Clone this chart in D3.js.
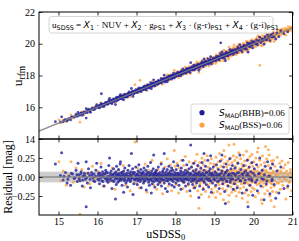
<!DOCTYPE html>
<html>
<head>
<meta charset="utf-8">
<script src="https://cdn.jsdelivr.net/npm/d3@7"></script>
<style>
  body { margin: 0; background: #fff; }
  svg { display: block; }
</style>
</head>
<body>
<div id="chart"></div>
<script>
// tick values
const xTicks = [15, 16, 17, 18, 19, 20, 21];
const yTopTicks = [14, 16, 18, 20, 22];
const yResTicks = [-0.25, 0, 0.25];

// legend values
const seriesNames = ["BHB", "BSS"];
const smadValues = [0.06, 0.06];
const bandHalfWidth = 0.07;

// BHB stars: [uSDSS0, residual]
const bhb = [
  [14.92,0.17],[15.08,0.32],[15.05,0.02],[15.12,-0.04],[15.18,0.06],[15.22,-0.08],[15.27,0.01],[15.31,-0.11],[15.36,0.04],[15.40,-0.02],[15.45,0.09],[15.48,-0.06],
  [15.50,0.18],[15.52,0.03],[15.55,-0.05],[15.58,0.07],[15.61,-0.12],[15.63,0.01],[15.66,0.05],[15.69,-0.03],[15.71,0.20],[15.71,-0.39],[15.74,-0.08],[15.77,0.11],[15.80,0.02],[15.82,-0.14],[15.85,0.06],[15.88,-0.01],[15.91,0.04],[15.93,-0.06],[15.96,0.09],[15.98,0.18],
  [16.01,-0.03],[16.03,0.05],[16.05,-0.09],[16.07,0.02],[16.09,0.13],[16.10,0.75],[16.11,-0.05],[16.13,0.07],[16.15,0.00],[16.17,-0.12],[16.19,0.04],[16.21,0.09],[16.23,-0.02],[16.25,0.06],[16.27,-0.07],[16.29,0.15],[16.31,0.25],[16.31,0.01],[16.33,-0.04],[16.35,0.08],[16.37,-0.15],[16.39,0.03],[16.41,0.11],[16.42,-0.06],[16.44,0.05],[16.46,-0.29],[16.46,0.00],[16.47,0.07],[16.48,-0.10],[16.49,0.14],[16.50,-0.01],
  [16.51,0.04],[16.52,-0.07],[16.54,0.10],[16.55,0.02],[16.57,-0.04],[16.58,0.17],[16.59,0.20],[16.60,-0.02],[16.62,0.06],[16.63,-0.11],[16.65,0.03],[16.67,-0.20],[16.67,0.08],[16.69,-0.05],[16.70,0.12],[16.72,0.01],[16.73,-0.08],[16.75,0.05],[16.77,-0.13],[16.78,0.09],[16.80,-0.03],[16.81,0.15],[16.83,0.02],[16.84,-0.06],[16.86,0.07],[16.87,0.31],[16.88,-0.01],[16.90,0.11],[16.91,-0.23],[16.92,0.04],[16.93,-0.09],[16.95,0.06],[16.96,-0.04],[16.98,0.13],[16.99,-0.02],
  [17.01,0.03],[17.02,-0.10],[17.04,0.08],[17.05,-0.03],[17.06,0.16],[17.08,0.01],[17.09,-0.06],[17.11,0.10],[17.12,-0.14],[17.14,0.05],[17.15,-0.01],[17.17,0.07],[17.18,-0.08],[17.19,0.12],[17.21,0.00],[17.22,-0.05],[17.24,0.09],[17.25,-0.17],[17.26,0.04],[17.28,-0.02],[17.29,0.14],[17.31,-0.07],[17.32,0.06],[17.33,-0.11],[17.35,0.02],[17.36,0.19],[17.37,-0.04],[17.38,-0.21],[17.39,0.08],[17.40,-0.09],[17.41,0.03],[17.42,-0.01],[17.43,0.11],[17.44,0.29],[17.45,-0.06],[17.46,0.05],[17.47,-0.13],[17.48,0.01],[17.49,0.07],[17.50,-0.03],
  [17.51,0.09],[17.52,-0.05],[17.54,0.04],[17.55,-0.10],[17.56,0.13],[17.58,0.00],[17.59,-0.07],[17.60,0.06],[17.62,-0.02],[17.63,0.17],[17.64,-0.12],[17.66,0.03],[17.67,0.08],[17.68,-0.04],[17.70,0.11],[17.71,0.31],[17.71,-0.08],[17.73,0.02],[17.74,-0.15],[17.76,0.07],[17.77,-0.01],[17.79,-0.19],[17.79,0.10],[17.80,-0.05],[17.82,0.05],[17.83,0.14],[17.84,-0.09],[17.86,0.01],[17.87,0.08],[17.88,-0.03],[17.90,0.12],[17.91,-0.11],[17.92,0.04],[17.93,0.09],[17.94,-0.06],[17.95,0.20],[17.96,0.02],[17.97,-0.13],[17.98,0.06],[17.99,-0.02],
  [18.01,-0.08],[18.02,0.10],[18.03,0.01],[18.05,-0.04],[18.06,0.15],[18.07,0.05],[18.09,-0.11],[18.10,0.03],[18.11,-0.01],[18.13,0.08],[18.14,-0.16],[18.15,0.12],[18.17,-0.05],[18.18,0.02],[18.19,0.22],[18.21,-0.07],[18.22,0.06],[18.23,-0.02],[18.25,0.09],[18.26,-0.12],[18.27,0.04],[18.29,0.16],[18.30,-0.03],[18.31,0.07],[18.33,-0.09],[18.34,0.01],[18.35,0.11],[18.37,-0.18],[18.38,0.05],[18.39,0.42],[18.40,-0.06],[18.41,0.13],[18.43,0.00],[18.44,-0.10],[18.45,0.08],[18.46,-0.03],[18.47,0.18],[18.48,0.03],[18.49,-0.14],[18.50,0.06],
  [18.51,-0.01],[18.53,0.10],[18.54,-0.08],[18.56,0.04],[18.57,0.15],[18.59,-0.05],[18.60,-0.27],[18.61,0.07],[18.62,-0.12],[18.64,0.02],[18.65,0.12],[18.67,-0.03],[18.68,0.19],[18.70,0.05],[18.71,-0.16],[18.73,0.31],[18.73,0.09],[18.74,-0.07],[18.76,0.01],[18.77,0.14],[18.79,-0.10],[18.80,0.06],[18.82,-0.02],[18.83,0.22],[18.85,-0.13],[18.86,0.08],[18.88,-0.05],[18.89,0.11],[18.90,0.28],[18.91,0.03],[18.92,-0.20],[18.94,0.05],[18.95,-0.08],[18.97,0.13],[18.99,-0.01],
  [19.01,0.07],[19.03,-0.11],[19.05,0.16],[19.06,0.02],[19.08,-0.06],[19.10,0.10],[19.12,-0.15],[19.13,0.04],[19.15,0.21],[19.16,0.90],[19.17,-0.03],[19.19,0.29],[19.19,0.08],[19.21,-0.09],[19.23,0.13],[19.24,0.00],[19.26,-0.19],[19.28,-0.35],[19.28,0.06],[19.30,0.17],[19.32,-0.05],[19.33,0.09],[19.35,-0.12],[19.37,0.03],[19.39,0.24],[19.40,-0.07],[19.42,0.11],[19.44,-0.02],[19.46,0.15],[19.48,-0.16],[19.49,0.05],
  [19.51,-0.09],[19.53,0.12],[19.55,0.01],[19.58,-0.14],[19.60,0.18],[19.62,0.06],[19.65,0.29],[19.66,-0.05],[19.68,0.10],[19.71,-0.21],[19.73,0.03],[19.75,0.15],[19.77,-0.08],[19.80,0.08],[19.82,-0.17],[19.84,0.22],[19.86,-0.39],[19.87,0.02],[19.89,0.13],[19.91,-0.11],[19.93,0.07],[19.95,-0.03],[19.96,0.19],[19.98,-0.24],[19.99,0.05],
  [20.02,0.11],[20.05,-0.07],[20.08,0.16],[20.10,-0.18],[20.13,0.04],[20.16,0.25],[20.19,-0.12],[20.22,0.09],[20.25,-0.03],[20.27,-0.30],[20.30,0.14],[20.33,-0.09],[20.36,0.20],[20.39,0.01],[20.42,-0.22],[20.44,0.12],[20.47,-0.05],[20.49,0.17],
  [20.53,-0.10],[20.57,-0.28],[20.60,0.08],[20.65,-0.21],[20.70,0.13],[20.78,-0.15],[20.88,-0.12]
];

// BHB stars in the dense core of the relation: [uSDSS0, residual]
const bhbCore = [
  [15.14,0.01],[15.24,-0.03],[15.33,0.05],[15.42,-0.01],[15.47,0.03],
  [15.53,-0.02],[15.57,0.04],[15.62,-0.04],[15.67,0.02],[15.72,-0.01],[15.76,0.05],[15.81,-0.03],[15.86,0.03],[15.90,-0.05],[15.95,0.01],
  [16.02,0.02],[16.04,-0.04],[16.06,0.05],[16.08,-0.01],[16.12,0.03],[16.14,-0.06],[16.16,0.04],[16.20,-0.02],[16.22,0.06],[16.24,-0.05],[16.26,0.01],[16.28,-0.03],[16.32,0.05],[16.34,-0.01],[16.36,0.03],[16.38,-0.05],[16.40,0.00],[16.43,0.04],[16.45,-0.03],[16.48,0.02],
  [16.51,-0.02],[16.53,0.03],[16.55,-0.05],[16.56,0.05],[16.58,-0.01],[16.60,0.02],[16.61,-0.04],[16.63,0.06],[16.65,-0.02],[16.66,0.01],[16.68,0.04],[16.70,-0.03],[16.71,0.00],[16.74,0.03],[16.76,-0.05],[16.78,0.01],[16.79,-0.02],[16.82,0.05],[16.84,0.00],[16.85,-0.04],[16.87,0.03],[16.89,-0.01],[16.92,0.06],[16.94,-0.03],[16.97,0.02],
  [17.00,-0.01],[17.02,0.04],[17.03,-0.05],[17.05,0.02],[17.07,-0.02],[17.08,0.06],[17.10,0.00],[17.12,-0.04],[17.13,0.03],[17.15,0.05],[17.16,-0.02],[17.18,0.01],[17.20,-0.05],[17.21,0.04],[17.23,-0.01],[17.25,0.02],[17.27,-0.03],[17.28,0.06],[17.30,0.01],[17.32,-0.04],[17.34,0.03],[17.36,-0.02],[17.38,0.05],[17.41,-0.05],[17.43,0.01],[17.45,0.04],[17.47,-0.02],[17.49,0.02],
  [17.50,0.05],[17.52,-0.02],[17.53,0.02],[17.55,-0.04],[17.57,0.04],[17.58,-0.01],[17.60,0.01],[17.61,-0.05],[17.63,0.03],[17.65,0.00],[17.66,-0.03],[17.68,0.06],[17.69,0.01],[17.72,-0.04],[17.73,0.04],[17.75,-0.01],[17.77,0.03],[17.78,-0.05],[17.81,0.02],[17.82,-0.02],[17.84,0.05],[17.86,-0.03],[17.88,0.01],[17.89,0.04],[17.91,-0.04],[17.93,0.00],[17.96,-0.02],[17.98,0.03],
  [18.00,0.02],[18.02,-0.03],[18.04,0.05],[18.05,0.00],[18.07,-0.05],[18.08,0.03],[18.10,-0.02],[18.12,0.04],[18.13,0.00],[18.15,-0.04],[18.16,0.06],[18.18,-0.01],[18.20,0.02],[18.21,-0.05],[18.23,0.04],[18.25,-0.02],[18.26,0.01],[18.28,-0.03],[18.30,0.05],[18.32,0.00],[18.34,-0.04],[18.36,0.03],[18.38,-0.01],[18.40,0.04],[18.42,-0.03],[18.44,0.02],[18.46,-0.05],[18.49,0.01],
  [18.50,-0.03],[18.52,0.04],[18.54,0.00],[18.55,-0.05],[18.57,0.03],[18.59,0.05],[18.61,-0.02],[18.63,0.01],[18.65,-0.04],[18.66,0.04],[18.69,-0.01],[18.70,0.02],[18.72,-0.05],[18.75,0.03],[18.77,-0.02],[18.79,0.06],[18.81,0.00],[18.83,-0.04],[18.85,0.03],[18.87,-0.02],[18.89,0.05],[18.91,-0.05],[18.93,0.01],[18.96,0.03],[18.98,-0.03],
  [19.00,0.02],[19.02,-0.04],[19.04,0.05],[19.07,-0.01],[19.09,0.03],[19.11,-0.05],[19.14,0.01],[19.16,-0.02],[19.18,0.05],[19.20,0.00],[19.22,-0.04],[19.25,0.03],[19.27,-0.02],[19.29,0.06],[19.31,-0.06],[19.34,0.02],[19.36,-0.01],[19.38,0.04],[19.41,-0.04],[19.43,0.01],[19.45,0.05],[19.47,-0.03],
  [19.52,0.03],[19.55,-0.04],[19.58,0.05],[19.61,-0.02],[19.64,0.01],[19.67,-0.05],[19.70,0.04],[19.73,-0.01],[19.76,0.06],[19.79,-0.04],[19.82,0.02],[19.85,0.05],[19.88,-0.03],[19.92,0.00],[19.96,-0.05],
  [20.03,0.02],[20.09,-0.04],[20.15,0.05],[20.21,-0.02],[20.28,0.03],[20.34,-0.05],[20.41,0.01],[20.48,-0.03]
];

// BSS stars: [uSDSS0, residual]
const bss = [
  [15.01,0.20],[15.06,-0.05],[15.12,0.08],[15.20,-0.11],[15.26,0.03],[15.32,0.20],[15.38,-0.07],[15.45,0.12],
  [15.52,-0.03],[15.55,-0.49],[15.60,0.10],[15.66,-0.13],[15.72,0.05],[15.80,-0.09],[15.87,0.14],[15.94,-0.02],
  [16.03,0.07],[16.09,0.18],[16.14,-0.12],[16.22,0.04],[16.30,-0.06],[16.38,0.12],[16.45,-0.16],
  [16.53,0.09],[16.60,-0.04],[16.66,0.15],[16.72,-0.11],[16.78,0.06],[16.84,-0.18],[16.90,0.02],[16.96,0.46],[16.98,-0.08],
  [17.03,0.12],[17.07,-0.14],[17.09,0.60],[17.13,0.05],[17.18,-0.06],[17.22,0.17],[17.27,-0.20],[17.31,0.09],[17.36,-0.03],[17.40,0.22],[17.44,-0.10],[17.48,0.07],
  [17.52,-0.16],[17.55,0.10],[17.58,0.02],[17.61,-0.08],[17.64,0.19],[17.67,-0.22],[17.70,0.06],[17.73,0.13],[17.76,-0.05],[17.79,0.24],[17.82,-0.12],[17.84,0.04],[17.87,0.16],[17.90,-0.18],[17.92,0.09],[17.95,-0.02],[17.97,0.35],[17.99,0.14],
  [18.02,-0.10],[18.04,0.18],[18.06,0.03],[18.08,-0.21],[18.10,0.12],[18.13,-0.04],[18.15,0.22],[18.17,0.07],[18.19,-0.15],[18.21,0.15],[18.23,-0.07],[18.25,0.27],[18.27,0.01],[18.29,-0.19],[18.31,0.10],[18.33,-0.11],[18.35,0.20],[18.37,0.05],[18.39,-0.25],[18.41,0.13],[18.43,-0.03],[18.45,0.18],[18.46,-0.14],[18.48,0.09],[18.50,-0.06],
  [18.51,0.21],[18.52,-0.12],[18.54,0.07],[18.55,0.30],[18.57,-0.18],[18.58,0.14],[18.60,-0.41],[18.60,0.02],[18.62,0.19],[18.63,-0.09],[18.65,0.11],[18.66,-0.23],[18.68,0.25],[18.69,0.04],[18.71,-0.14],[18.72,0.16],[18.74,-0.05],[18.75,0.22],[18.77,-0.19],[18.78,0.09],[18.80,-0.02],[18.81,0.28],[18.83,-0.11],[18.84,0.13],[18.86,-0.26],[18.87,0.06],[18.89,0.18],[18.90,-0.08],[18.92,0.24],[18.93,-0.16],[18.95,0.10],[18.96,0.01],[18.97,-0.21],[18.98,0.17],[18.99,-0.04],
  [19.01,0.15],[19.02,-0.13],[19.03,-0.27],[19.04,0.26],[19.05,0.05],[19.07,-0.19],[19.08,0.12],[19.09,-0.06],[19.10,0.20],[19.12,-0.10],[19.13,0.31],[19.14,0.03],[19.15,-0.22],[19.17,0.14],[19.18,-0.02],[19.19,0.23],[19.21,-0.15],[19.22,0.08],[19.23,-0.30],[19.24,0.35],[19.25,0.18],[19.26,-0.07],[19.27,0.27],[19.29,0.00],[19.30,-0.17],[19.31,0.13],[19.33,-0.11],[19.34,0.21],[19.35,0.06],[19.36,-0.33],[19.37,0.42],[19.37,-0.24],[19.38,0.16],[19.40,-0.04],[19.41,0.25],[19.42,-0.13],[19.43,0.09],[19.44,-0.20],[19.45,0.19],[19.46,0.02],[19.47,-0.09],[19.48,0.28],[19.49,-0.16],[19.50,0.43],[19.50,0.11],
  [19.51,-0.06],[19.52,0.22],[19.53,-0.18],[19.54,0.14],[19.55,0.03],[19.56,-0.25],[19.57,0.26],[19.58,0.08],[19.59,-0.12],[19.60,0.19],[19.61,-0.03],[19.62,0.32],[19.63,-0.20],[19.64,0.11],[19.65,0.00],[19.66,-0.15],[19.67,0.24],[19.68,0.06],[19.69,-0.09],[19.70,0.17],[19.71,-0.28],[19.72,0.13],[19.73,-0.02],[19.74,0.29],[19.75,-0.13],[19.76,0.09],[19.77,0.21],[19.78,-0.21],[19.79,0.04],[19.80,0.15],[19.81,-0.07],[19.82,0.34],[19.83,-0.17],[19.84,0.10],[19.85,-0.01],[19.85,-0.33],[19.86,0.23],[19.87,-0.24],[19.88,0.12],[19.89,0.05],[19.90,-0.11],[19.91,0.27],[19.92,-0.05],[19.93,0.18],[19.94,-0.19],[19.95,0.08],[19.96,0.30],[19.97,-0.14],[19.98,0.14],[19.99,-0.03],
  [20.01,0.20],[20.02,-0.16],[20.04,0.09],[20.05,-0.26],[20.06,0.25],[20.08,0.02],[20.09,-0.10],[20.10,0.33],[20.12,0.13],[20.12,0.38],[20.13,-0.21],[20.14,0.06],[20.16,-1.52],[20.16,0.22],[20.17,-0.08],[20.19,0.16],[20.20,-0.30],[20.21,0.04],[20.22,-0.35],[20.23,0.28],[20.24,-0.13],[20.25,0.10],[20.27,-0.04],[20.28,0.19],[20.29,-0.22],[20.31,0.40],[20.31,0.07],[20.32,-0.11],[20.34,0.24],[20.35,0.01],[20.36,-0.18],[20.38,0.15],[20.38,0.36],[20.39,-0.06],[20.40,0.29],[20.42,-0.25],[20.43,0.11],[20.44,0.03],[20.45,-0.14],[20.45,-0.31],[20.46,0.21],[20.47,-0.09],[20.48,0.17],[20.49,-0.19],[20.50,0.08],
  [20.51,0.22],[20.53,-0.39],[20.53,-0.12],[20.55,0.14],[20.57,0.03],[20.59,-0.20],[20.61,0.26],[20.63,0.09],[20.65,-0.08],[20.67,0.18],[20.69,-0.16],[20.71,0.05],[20.73,0.21],[20.75,-0.11],[20.77,0.12],[20.79,-0.02],[20.81,0.16],[20.83,-0.29],[20.85,0.08],[20.87,-0.14],[20.89,0.19],[20.92,-0.06],[20.95,0.10],[20.98,-0.18],[20.99,0.04]
];

// BSS stars in the dense core of the relation: [uSDSS0, residual]
const bssCore = [
  [17.10,0.02],[17.20,-0.04],[17.33,0.05],[17.45,-0.02],[17.57,0.03],[17.65,-0.05],[17.74,0.01],[17.83,0.06],[17.91,-0.03],[17.98,0.02],
  [18.03,0.05],[18.09,-0.03],[18.14,0.01],[18.20,-0.06],[18.24,0.03],[18.30,0.07],[18.34,-0.02],[18.40,0.04],[18.44,-0.07],[18.49,0.01],
  [18.53,0.06],[18.56,-0.03],[18.59,0.01],[18.64,-0.06],[18.67,0.08],[18.70,0.02],[18.73,-0.08],[18.76,0.05],[18.79,-0.01],[18.82,0.07],[18.85,-0.05],[18.88,0.03],[18.91,-0.02],[18.94,0.06],[18.97,0.00],
  [19.01,-0.04],[19.03,0.07],[19.06,0.01],[19.08,-0.08],[19.11,0.04],[19.13,-0.02],[19.16,0.09],[19.18,-0.05],[19.20,0.02],[19.22,-0.09],[19.24,0.06],[19.26,0.00],[19.28,-0.03],[19.31,0.08],[19.33,-0.06],[19.35,0.03],[19.38,-0.01],[19.40,0.07],[19.42,-0.07],[19.44,0.04],[19.47,-0.02],[19.49,0.09],
  [19.50,-0.05],[19.52,0.04],[19.54,-0.09],[19.56,0.07],[19.58,-0.02],[19.60,0.01],[19.62,-0.06],[19.64,0.08],[19.66,0.03],[19.68,-0.04],[19.70,0.06],[19.72,-0.08],[19.74,0.00],[19.76,-0.03],[19.78,0.09],[19.80,-0.06],[19.82,0.02],[19.84,0.05],[19.86,-0.09],[19.88,0.01],[19.90,0.07],[19.92,-0.04],[19.94,0.03],[19.96,-0.07],[19.98,0.05],
  [20.00,-0.02],[20.02,0.06],[20.04,-0.07],[20.06,0.03],[20.08,-0.04],[20.10,0.08],[20.12,-0.01],[20.14,-0.09],[20.16,0.05],[20.18,0.01],[20.20,-0.05],[20.22,0.07],[20.24,0.02],[20.26,-0.08],[20.28,0.04],[20.30,-0.03],[20.32,0.09],[20.34,-0.06],[20.36,0.00],[20.38,0.06],[20.40,-0.04],[20.42,0.03],[20.44,-0.08],[20.46,0.05],[20.48,-0.01],
  [20.52,0.06],[20.55,-0.05],[20.58,0.02],[20.61,-0.08],[20.64,0.04],[20.67,-0.02],[20.70,0.08],[20.73,-0.06],[20.76,0.01],[20.80,0.05],[20.84,-0.04],[20.88,0.03],[20.91,-0.07],[20.94,0.06],[20.97,-0.01]
];

const colors = { BHB: "#1f1f9c", BSS: "#ffa142" };
const serif = "Liberation Serif";
const sans = "DejaVu Sans";

const W = 299, H = 241;
const pLeft = 39, pRight = 292.5, pTop = 12, pMid = 139, pBottom = 215;

const svg = d3.select("#chart").append("svg").attr("width", W).attr("height", H);

const x = d3.scaleLinear().domain([14.5, 21]).range([pLeft, pRight]);
const yTop = d3.scaleLinear().domain([14, 22]).range([pMid, pTop]);
const yRes = d3.scaleLinear().domain([-0.5, 0.5]).range([pBottom, pMid]);

const series = [["BSS", bss.concat(bssCore)], ["BHB", bhb.concat(bhbCore)]];

const defs = svg.append("defs");
defs.append("clipPath").attr("id", "clipTop")
  .append("rect").attr("x", pLeft).attr("y", pTop).attr("width", pRight - pLeft).attr("height", pMid - pTop);
defs.append("clipPath").attr("id", "clipRes")
  .append("rect").attr("x", pLeft).attr("y", pMid).attr("width", pRight - pLeft).attr("height", pBottom - pMid);

// ---- top panel: u_rfm vs uSDSS0
const gTop = svg.append("g").attr("clip-path", "url(#clipTop)");
series.forEach(([name, data]) => {
  gTop.append("g")
    .attr("fill", colors[name])
    .attr("fill-opacity", 0.8)
    .selectAll("circle")
    .data(data)
    .join("circle")
    .attr("cx", (d) => x(d[0]))
    .attr("cy", (d) => yTop(d[0] + d[1]))
    .attr("r", 1.4);
});
gTop.append("line")
  .attr("x1", x(14.5)).attr("y1", yTop(14.5))
  .attr("x2", x(21)).attr("y2", yTop(21))
  .attr("stroke", "#808080")
  .attr("stroke-opacity", 0.85)
  .attr("stroke-width", 1.5);

// ---- bottom panel: residuals, scatter band under the points
const gRes = svg.append("g").attr("clip-path", "url(#clipRes)");
gRes.append("rect")
  .attr("x", pLeft).attr("width", pRight - pLeft)
  .attr("y", yRes(bandHalfWidth))
  .attr("height", yRes(-bandHalfWidth) - yRes(bandHalfWidth))
  .attr("fill", "#808080")
  .attr("fill-opacity", 0.3);
series.forEach(([name, data]) => {
  gRes.append("g")
    .attr("fill", colors[name])
    .attr("fill-opacity", 0.8)
    .selectAll("circle")
    .data(data)
    .join("circle")
    .attr("cx", (d) => x(d[0]))
    .attr("cy", (d) => yRes(d[1]))
    .attr("r", 1.5);
});
gRes.append("rect")
  .attr("x", pLeft).attr("width", pRight - pLeft)
  .attr("y", yRes(bandHalfWidth))
  .attr("height", yRes(-bandHalfWidth) - yRes(bandHalfWidth))
  .attr("fill", "#808080")
  .attr("fill-opacity", 0.12);
gRes.append("line")
  .attr("x1", pLeft).attr("x2", pRight)
  .attr("y1", yRes(0)).attr("y2", yRes(0))
  .attr("stroke", "#808080")
  .attr("stroke-opacity", 0.85)
  .attr("stroke-width", 1.5);

// ---- axes (ticks inward on every side)
const tick = 3.5;
function styleAxis(g) {
  g.select(".domain").remove();
  g.attr("font-family", serif).attr("font-size", 10);
  g.selectAll(".tick line").attr("stroke", "#000").attr("stroke-width", 0.8);
  g.selectAll(".tick text").attr("fill", "#000");
}
function panelAxes(y0, y1, yScale, yTicks, yFmt, xLabels) {
  svg.append("g").attr("transform", `translate(0,${y1})`)
    .call(d3.axisBottom(x).tickValues(xTicks).tickSize(-tick).tickPadding(3)
      .tickFormat(xLabels ? d3.format("d") : ""))
    .call(styleAxis);
  svg.append("g").attr("transform", `translate(0,${y0})`)
    .call(d3.axisTop(x).tickValues(xTicks).tickSize(-tick).tickFormat(""))
    .call(styleAxis);
  svg.append("g").attr("transform", `translate(${pLeft},0)`)
    .call(d3.axisLeft(yScale).tickValues(yTicks).tickSize(-tick).tickPadding(4).tickFormat(yFmt))
    .call(styleAxis);
  svg.append("g").attr("transform", `translate(${pRight},0)`)
    .call(d3.axisRight(yScale).tickValues(yTicks).tickSize(-tick).tickFormat(""))
    .call(styleAxis);
  svg.append("rect")
    .attr("x", pLeft).attr("y", y0)
    .attr("width", pRight - pLeft).attr("height", y1 - y0)
    .attr("fill", "none").attr("stroke", "#000").attr("stroke-width", 1);
}
panelAxes(pTop, pMid, yTop, yTopTicks, d3.format("d"), false);
panelAxes(pMid, pBottom, yRes, yResTicks, d3.format(".2f"), true);

// ---- rich text helper (sub-scripts, mixed fonts)
function rich(textSel, parts, size) {
  let shift = 0;
  parts.forEach((p) => {
    const ts = textSel.append("tspan").text(p.t)
      .attr("font-family", p.f || serif)
      .attr("font-size", p.sub ? size * 0.7 : size);
    if (p.i) ts.attr("font-style", "italic");
    const want = p.sub ? size * 0.22 : 0;
    if (want !== shift) { ts.attr("dy", want - shift); shift = want; }
  });
  return textSel;
}

// axis labels
rich(svg.append("text").attr("x", 165.75).attr("y", 237.5).attr("text-anchor", "middle").attr("fill", "#000"),
  [{ t: "uSDSS" }, { t: "0", sub: true }], 12);
rich(svg.append("text").attr("transform", "translate(22,76) rotate(-90)").attr("text-anchor", "middle").attr("fill", "#000"),
  [{ t: "u" }, { t: "rfm", sub: true }], 13.5);
svg.append("text")
  .attr("transform", `translate(12,${(pMid + pBottom) / 2}) rotate(-90)`)
  .attr("text-anchor", "middle")
  .attr("font-family", serif)
  .attr("font-size", 12)
  .text("Residual [mag]");

// formula box
svg.append("rect")
  .attr("x", 49).attr("y", 16.5).attr("width", 224).attr("height", 16.5)
  .attr("rx", 2.5)
  .attr("fill", "#fff").attr("fill-opacity", 0.85)
  .attr("stroke", "#cccccc").attr("stroke-width", 0.8);
const S = (t) => ({ t, f: sans, sub: true });
const X = { t: "X", f: sans, i: true };
rich(svg.append("text").attr("x", 52).attr("y", 27.5).attr("fill", "#000"), [
  { t: "u" }, S("SDSS"), { t: " = " }, X, S("1"), { t: " · NUV + " },
  X, S("2"), { t: " · g" }, S("PS1"), { t: " + " },
  X, S("3"), { t: " · (g-r)" }, S("PS1"), { t: " + " },
  X, S("4"), { t: " · (g-i)" }, S("PS1")
], 9.2);

// legend
const legend = svg.append("g");
legend.append("rect")
  .attr("x", 191).attr("y", 104).attr("width", 98).attr("height", 30)
  .attr("rx", 2.5)
  .attr("fill", "#fff").attr("fill-opacity", 0.85)
  .attr("stroke", "#cccccc").attr("stroke-width", 0.8);
seriesNames.forEach((name, i) => {
  const cy = 112.7 + i * 12.3;
  legend.append("circle").attr("cx", 202).attr("cy", cy).attr("r", 2.6).attr("fill", colors[name]);
  rich(legend.append("text").attr("x", 219).attr("y", cy + 3.3).attr("fill", "#000"), [
    { t: "S", f: sans, i: true }, S("MAD"), { t: `(${name})=${smadValues[i].toFixed(2)}` }
  ], 9);
});
</script>
</body>
</html>
